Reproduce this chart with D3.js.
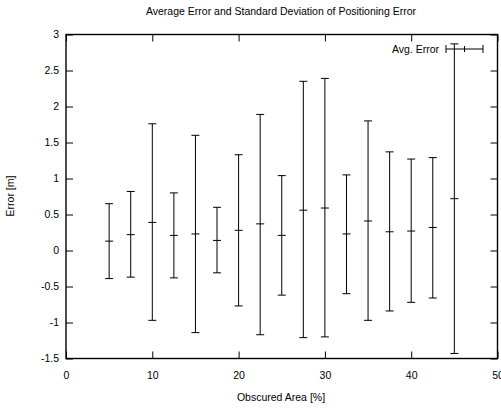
<!DOCTYPE html>
<html>
<head>
<meta charset="utf-8">
<script src="https://cdn.jsdelivr.net/npm/d3@7"></script>
<style>
  body { margin: 0; background: #fff; }
  text { font-family: "Liberation Sans", Arial, sans-serif; font-size: 10.5px; fill: #000; }
</style>
</head>
<body>
<script>
// obscured area [%]
const area = [5, 7.5, 10, 12.5, 15, 17.5, 20, 22.5, 25, 27.5, 30, 32.5, 35, 37.5, 40, 42.5, 45];
// mean error [m]
const avg = [0.13, 0.22, 0.39, 0.21, 0.23, 0.14, 0.28, 0.37, 0.21, 0.56, 0.59, 0.23, 0.41, 0.26, 0.27, 0.32, 0.72];
// mean +/- std dev
const upper = [0.65, 0.82, 1.76, 0.80, 1.60, 0.60, 1.33, 1.89, 1.04, 2.35, 2.39, 1.05, 1.80, 1.37, 1.27, 1.29, 2.87];
const lower = [-0.39, -0.37, -0.97, -0.38, -1.14, -0.31, -0.77, -1.17, -0.62, -1.21, -1.20, -0.60, -0.97, -0.84, -0.72, -0.66, -1.43];
const xTicks = [0, 10, 20, 30, 40, 50];
const yTicks = [-1.5, -1, -0.5, 0, 0.5, 1, 1.5, 2, 2.5, 3];

const width = 501, height = 409;
const plot = { left: 66, right: 497.5, top: 34.5, bottom: 358.5 };

const svg = d3.select('body').append('svg')
  .attr('width', width)
  .attr('height', height);

const x = d3.scaleLinear().domain([0, 50]).range([plot.left, plot.right]);
const y = d3.scaleLinear().domain([-1.5, 3]).range([plot.bottom, plot.top]);

const tickLen = 7;
const fmt = (d) => String(d);

// ticks on all four sides (mirrored like gnuplot)
svg.append('g').attr('transform', `translate(0,${plot.bottom})`)
  .call(d3.axisBottom(x).tickValues(xTicks).tickSize(-tickLen).tickPadding(13).tickFormat(fmt));
svg.append('g').attr('transform', `translate(0,${plot.top})`)
  .call(d3.axisTop(x).tickValues(xTicks).tickSize(-tickLen).tickFormat(''));
svg.append('g').attr('transform', `translate(${plot.left},0)`)
  .call(d3.axisLeft(y).tickValues(yTicks).tickSize(-tickLen).tickPadding(7).tickFormat(fmt));
svg.append('g').attr('transform', `translate(${plot.right},0)`)
  .call(d3.axisRight(y).tickValues(yTicks).tickSize(-tickLen).tickFormat(''));

svg.selectAll('.domain').remove();
svg.selectAll('.tick line').attr('stroke', '#000');
svg.selectAll('.tick text').style('font-family', '"Liberation Sans", Arial, sans-serif').style('font-size', '10.5px');

// frame
svg.append('rect')
  .attr('x', plot.left).attr('y', plot.top)
  .attr('width', plot.right - plot.left).attr('height', plot.bottom - plot.top)
  .attr('fill', 'none').attr('stroke', '#000').attr('stroke-width', 1.4);

// error bars
const cap = 4;
const bars = svg.append('g').attr('stroke', '#000').attr('stroke-width', 1).attr('fill', 'none');
area.forEach((a, i) => {
  const cx = x(a);
  bars.append('line').attr('x1', cx).attr('x2', cx).attr('y1', y(lower[i])).attr('y2', y(upper[i]));
  bars.append('line').attr('x1', cx - cap).attr('x2', cx + cap).attr('y1', y(lower[i])).attr('y2', y(lower[i]));
  bars.append('line').attr('x1', cx - cap).attr('x2', cx + cap).attr('y1', y(upper[i])).attr('y2', y(upper[i]));
  bars.append('line').attr('x1', cx - cap).attr('x2', cx + cap).attr('y1', y(avg[i])).attr('y2', y(avg[i]));
});

// legend
const ly = 49;
const lg = svg.append('g').attr('stroke', '#000').attr('stroke-width', 1);
lg.append('line').attr('x1', 446).attr('x2', 483).attr('y1', ly).attr('y2', ly);
lg.append('line').attr('x1', 446).attr('x2', 446).attr('y1', ly - 4).attr('y2', ly + 4);
lg.append('line').attr('x1', 483).attr('x2', 483).attr('y1', ly - 4).attr('y2', ly + 4);
lg.append('line').attr('x1', 464.5).attr('x2', 464.5).attr('y1', ly - 3).attr('y2', ly + 3);
svg.append('text').attr('x', 439).attr('y', ly + 3.5).attr('text-anchor', 'end').text('Avg. Error');

// titles
svg.append('text').attr('x', 281).attr('y', 15).attr('text-anchor', 'middle')
  .text('Average Error and Standard Deviation of Positioning Error');
svg.append('text').attr('x', 281).attr('y', 401).attr('text-anchor', 'middle')
  .text('Obscured Area [%]');
svg.append('text').attr('transform', 'translate(14,196) rotate(-90)').attr('text-anchor', 'middle')
  .text('Error [m]');
</script>
</body>
</html>
